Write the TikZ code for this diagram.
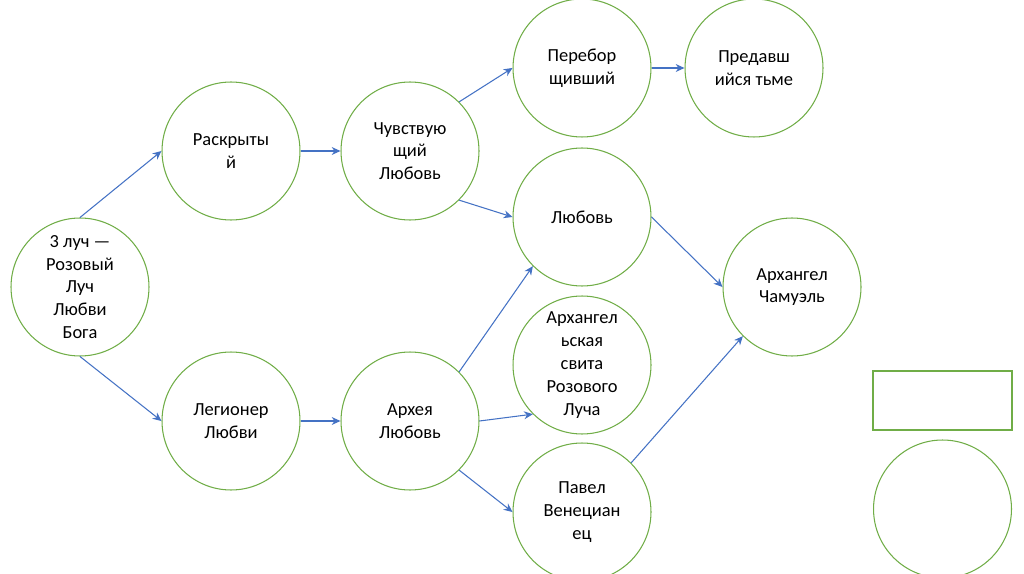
\documentclass[tikz,border=0pt]{standalone}
\usepackage{fontspec}
\setmainfont{Carlito}
\usetikzlibrary{arrows.meta}
\definecolor{cgreen}{HTML}{70AD47}
\definecolor{cblue}{HTML}{4472C4}
\begin{document}
\begin{tikzpicture}[x=0.02cm,y=-0.02cm,
  circ/.style={circle,draw=cgreen,line width=0.6pt,minimum size=2.76cm,inner sep=0pt,align=center,
    font=\fontsize{10.5pt}{13pt}\selectfont},
  conn/.style={draw=cblue,line width=0.6pt,-{Stealth[length=5pt,width=4.5pt]}}]
\useasboundingbox (0,0) rectangle (1024,574);
\node[circ] (A) at (80,287) {3 луч —\\Розовый\\Луч\\Любви\\Бога};
\node[circ] (B) at (231,151) {Раскрыты\\й};
\node[circ] (C) at (410,151) {Чувствую\\щий\\Любовь};
\node[circ] (D) at (582,68) {Перебор\\щивший};
\node[circ] (E) at (754,68) {Предавш\\ийся тьме};
\node[circ] (F) at (582,217) {Любовь};
\node[circ] (G) at (792,287) {Архангел\\Чамуэль};
\node[circ] (H) at (231,421) {Легионер\\Любви};
\node[circ] (I) at (410,421) {Архея\\Любовь};
\node[circ] (J) at (582,365) {Архангел\\ьская\\свита\\Розового\\Луча};
\node[circ] (K) at (582,512) {Павел\\Венециан\\ец};
\node[draw=cgreen,line width=0.6pt,minimum width=2.78cm,minimum height=1.18cm,inner sep=0pt] (R) at (942.5,400.5) {};
\node[circ] (L) at (942.5,509) {};
\draw[conn] (A.north) -- (B.west);
\draw[conn] (A.south) -- (H.west);
\draw[conn] (B.east) -- (C.west);
\draw[conn] (C.45) -- (D.west);
\draw[conn] (C.-45) -- (F.west);
\draw[conn] (D.east) -- (E.west);
\draw[conn] (F.east) -- (G.west);
\draw[conn] (H.east) -- (I.west);
\draw[conn] (I.45) -- (F.-135);
\draw[conn] (I.east) -- (J.-135);
\draw[conn] (I.-45) -- (K.west);
\draw[conn] (K.45) -- (G.-135);
\end{tikzpicture}
\end{document}
